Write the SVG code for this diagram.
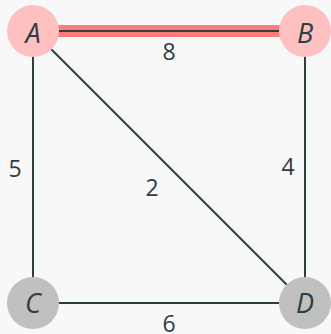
<svg xmlns="http://www.w3.org/2000/svg" width="331" height="334" viewBox="0 0 331 334">
<style>
.e{stroke:#2c3e44;stroke-width:2;fill:none}
.hl{stroke:#ff7b7b;stroke-width:12;fill:none}
.lbl{font-family:"Open Sans","Noto Sans",sans-serif;font-size:23px;fill:#2c3e44;text-anchor:middle}
.nl{font-family:"Open Sans","Noto Sans",sans-serif;font-size:27px;font-style:italic;fill:#2c3e44;text-anchor:middle}
.pk{fill:#ffc0c0}
.gr{fill:#c0c0c0}
</style>
<rect width="331" height="334" fill="#f8f8f8"/>
<g id="connectors">
<line class="hl" x1="33" y1="31" x2="305" y2="31"/>
<line class="e" x1="33" y1="31" x2="305" y2="31"/>
<line class="e" x1="33" y1="31" x2="33" y2="303"/>
<line class="e" x1="305" y1="31" x2="305" y2="303"/>
<line class="e" x1="33" y1="303" x2="305" y2="303"/>
<line class="e" x1="33" y1="31" x2="305" y2="303"/>
<text class="lbl" x="169" y="60">8</text>
<text class="lbl" x="15" y="177">5</text>
<text class="lbl" x="288" y="175">4</text>
<text class="lbl" x="152" y="196">2</text>
<text class="lbl" x="169" y="332">6</text>
</g>
<g id="A"><circle class="pk" cx="33" cy="31" r="26"/><text class="nl" x="33" y="43">A</text></g>
<g id="B"><circle class="pk" cx="305" cy="31" r="26"/><text class="nl" x="305" y="43">B</text></g>
<g id="C"><circle class="gr" cx="33" cy="303" r="26"/><text class="nl" x="33" y="313">C</text></g>
<g id="D"><circle class="gr" cx="305" cy="303" r="26"/><text class="nl" x="305" y="313">D</text></g>
</svg>
